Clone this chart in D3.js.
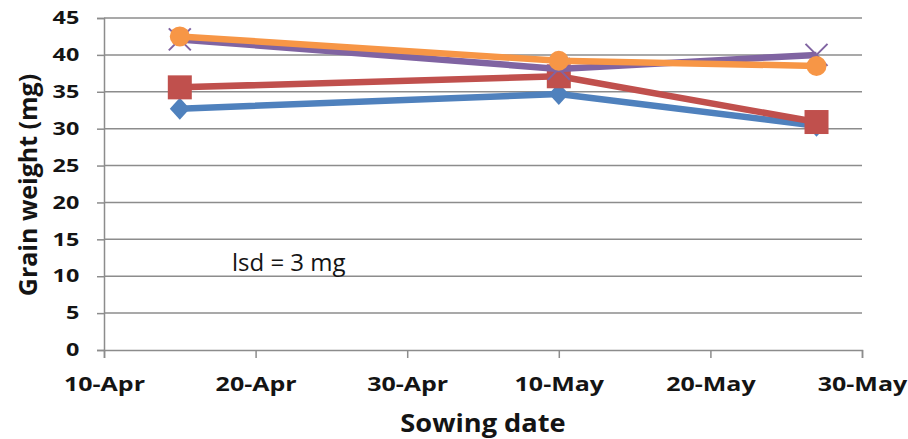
<!DOCTYPE html>
<html><head><meta charset="utf-8">
<script src="https://cdn.jsdelivr.net/npm/d3@7"></script>
<style>body{margin:0;background:#fff}svg{display:block}</style>
</head><body>
<script>
const dates = ["2013-04-15","2013-05-10","2013-05-27"];
const series1 = [32.7, 34.7, 30.4]; // blue diamond
const series2 = [35.6, 37.1, 30.9]; // red square
const series3 = [42.1, 38.1, 40.0]; // purple x
const series4 = [42.5, 39.2, 38.5]; // orange circle
const yTicks = [0,5,10,15,20,25,30,35,40,45];
const xTickDates = ["2013-04-10","2013-04-20","2013-04-30","2013-05-10","2013-05-20","2013-05-30"];
const yTitle = "Grain weight (mg)";
const xTitle = "Sowing date";
const note = "lsd = 3 mg";

const W=908,H=439;
const svg=d3.select("body").append("svg").attr("width",W).attr("height",H);
const parse=d3.utcParse("%Y-%m-%d");
const x=d3.scaleUtc().domain([parse(xTickDates[0]),parse(xTickDates[5])]).range([104,862]);
const y=d3.scaleLinear().domain([0,45]).range([350,18]);
const font="'Open Sans', 'Liberation Sans', sans-serif";
const grid="#8c8c8c";
const ink="#141414";

// gridlines
svg.append("g").selectAll("line").data(yTicks.filter(d=>d>0)).join("line")
 .attr("x1",104).attr("x2",862).attr("y1",d=>y(d)).attr("y2",d=>y(d))
 .attr("stroke",grid).attr("stroke-width",1.5);

// y axis
const ya=svg.append("g").attr("transform","translate(104,0)")
 .call(d3.axisLeft(y).tickValues(yTicks).tickSize(7).tickPadding(6).tickFormat(d3.format("d")));
ya.select(".domain").attr("stroke",grid).attr("stroke-width",1.5);
ya.selectAll(".tick line").attr("stroke",grid).attr("stroke-width",1.5);
ya.selectAll("text").attr("font-family",font).attr("font-weight","bold").attr("font-size",18).attr("fill",ink)
 .attr("x",-19).attr("transform","scale(1.3,1)");

// x axis
const xa=svg.append("g").attr("transform","translate(0,350)")
 .call(d3.axisBottom(x).tickValues(xTickDates.map(parse)).tickSize(8).tickPadding(19).tickFormat(d=>+d3.utcFormat("%d")(d)+"-"+d3.utcFormat("%b")(d)));
xa.select(".domain").attr("stroke",grid).attr("stroke-width",1.5);
xa.selectAll(".tick line").attr("stroke",grid).attr("stroke-width",1.5);
xa.selectAll("text").attr("font-family",font).attr("font-weight","bold").attr("font-size",20).attr("fill",ink)
 .attr("transform","scale(1.25,1)");

const line=d3.line().x((d,i)=>x(parse(dates[i]))).y(d=>y(d));
const defs=[
 {v:series1,c:"#4F81BD",m:"diamond"},
 {v:series2,c:"#C0504D",m:"square"},
 {v:series3,c:"#8064A2",m:"x"},
 {v:series4,c:"#F79646",m:"circle"}];
defs.forEach(s=>{
 const g=svg.append("g");
 g.append("path").attr("d",line(s.v)).attr("fill","none").attr("stroke",s.c).attr("stroke-width",6.5).attr("stroke-linejoin","round");
 s.v.forEach((v,i)=>{
  const cx=x(parse(dates[i])),cy=y(v);
  if(s.m==="diamond") g.append("path").attr("d","M0,-11L10,0L0,11L-10,0Z").attr("transform",`translate(${cx},${cy})`).attr("fill",s.c);
  if(s.m==="square") g.append("rect").attr("x",cx-12).attr("y",cy-12).attr("width",24).attr("height",24).attr("fill",s.c);
  if(s.m==="circle") g.append("circle").attr("cx",cx).attr("cy",cy).attr("r",10).attr("fill",s.c);
  if(s.m==="x") g.append("path").attr("d",`M${cx-11},${cy-11}L${cx+11},${cy+11}M${cx-11},${cy+11}L${cx+11},${cy-11}`).attr("stroke",s.c).attr("stroke-width",2);
 });
});

svg.append("text").attr("x",232).attr("y",271).attr("font-family",font).attr("font-size",24).attr("fill",ink).text(note);
svg.append("text").attr("transform","translate(37,185) rotate(-90)").attr("text-anchor","middle")
 .attr("font-family",font).attr("font-weight","bold").attr("font-size",25).attr("fill",ink).text(yTitle);
svg.append("text").attr("transform","translate(483,432) scale(1.09,1)").attr("text-anchor","middle")
 .attr("font-family",font).attr("font-weight","bold").attr("font-size",25).attr("fill",ink).text(xTitle);
</script>
</body></html>
